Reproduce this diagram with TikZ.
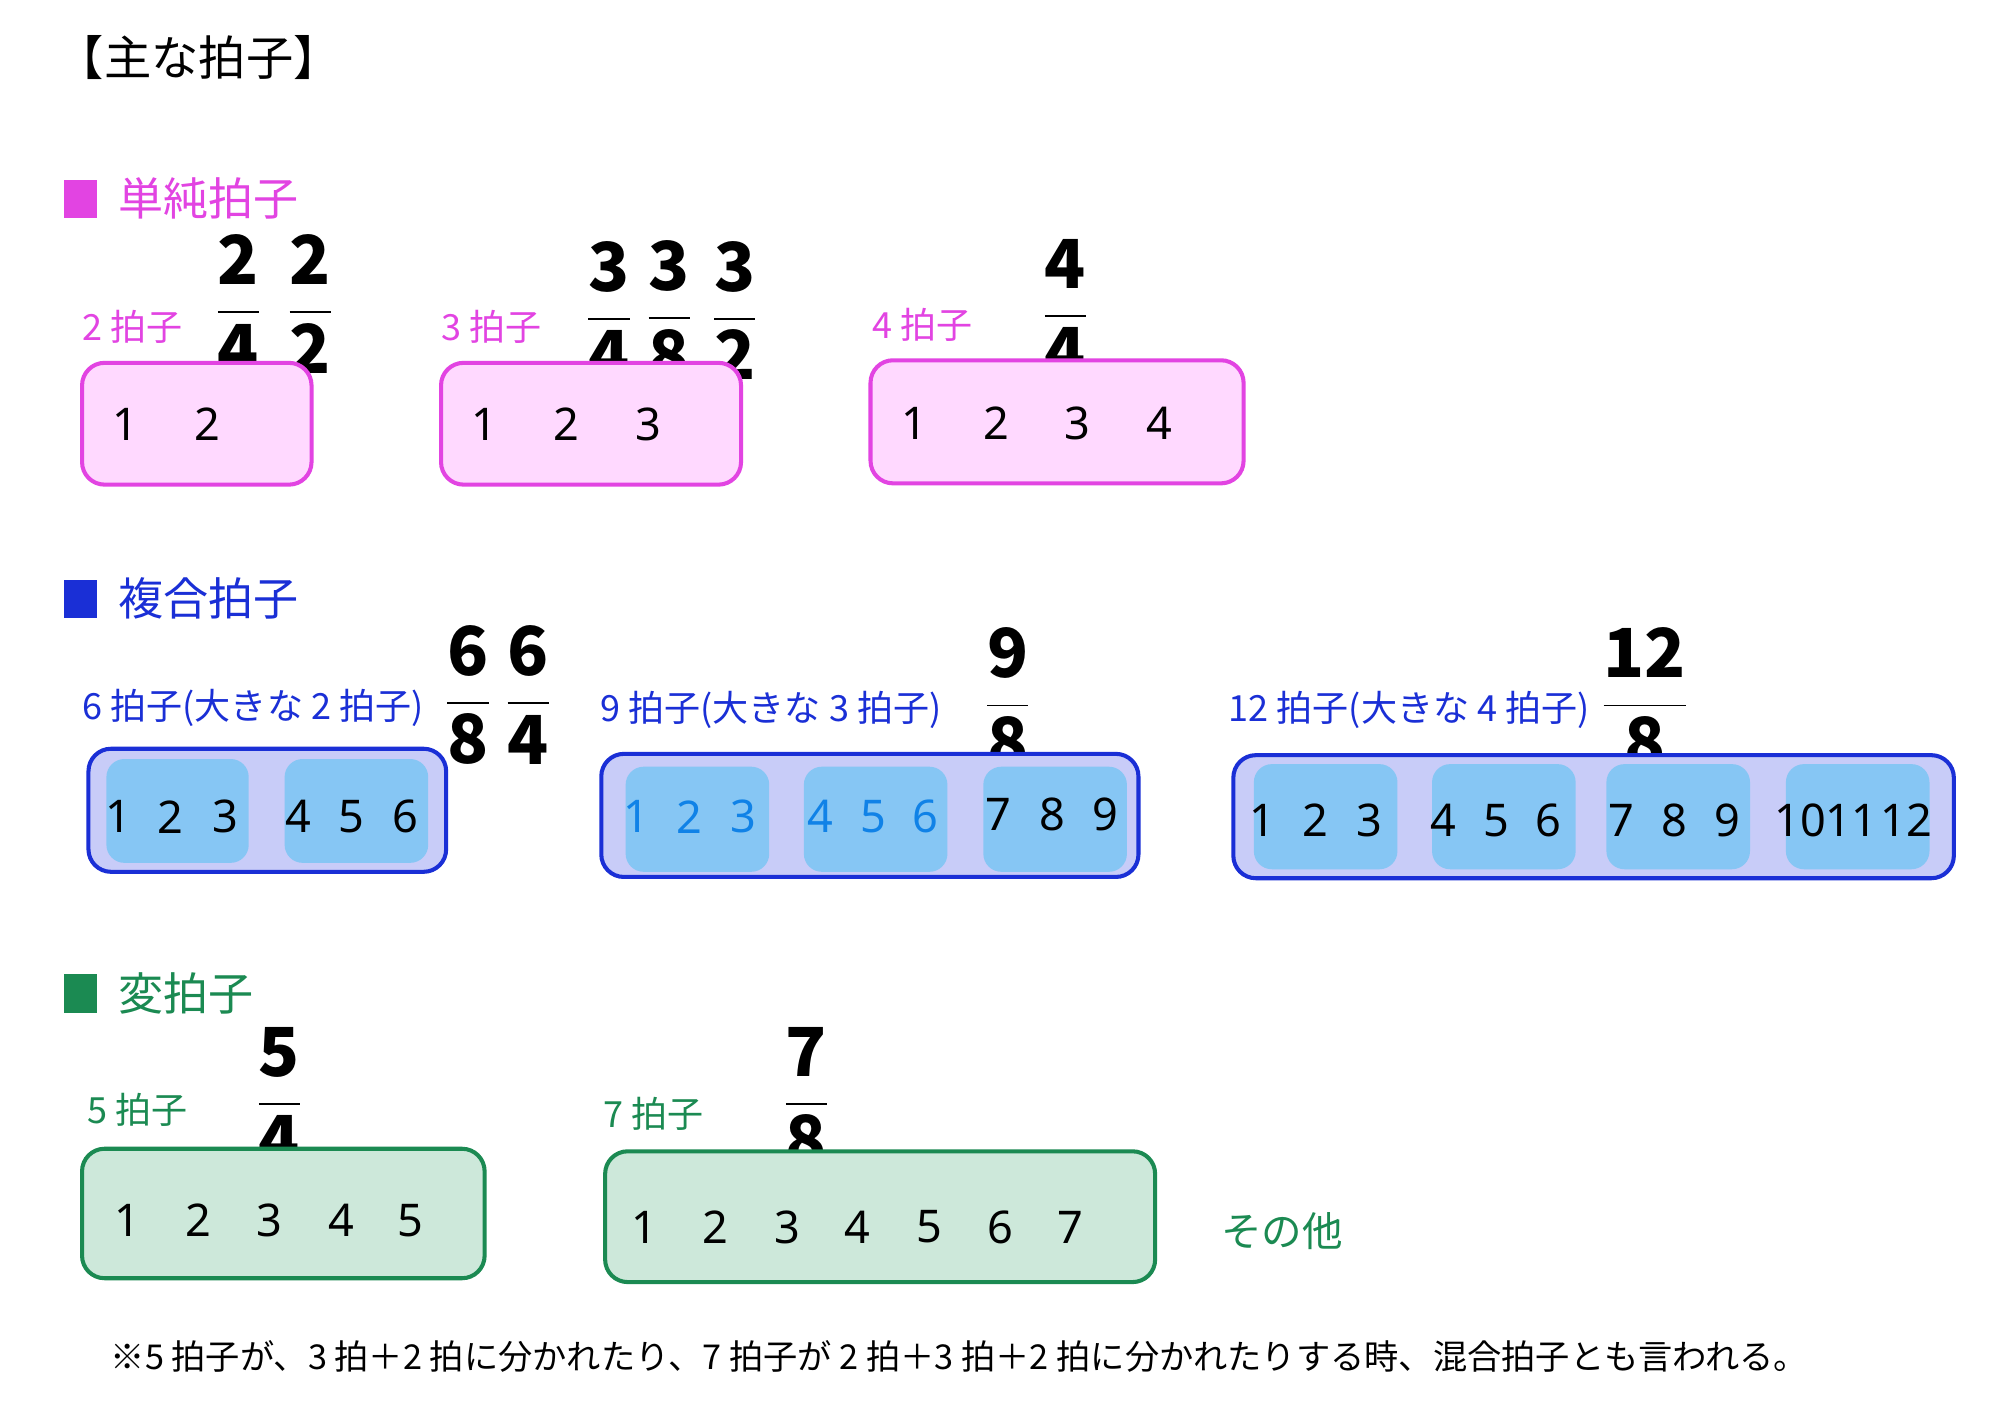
\documentclass[tikz,border=0pt]{standalone}
\usepackage{fontspec}
\setmainfont{Noto Sans CJK JP}
\newfontfamily\numf{Noto Sans}
\definecolor{pk}{HTML}{E244E2}
\definecolor{pkf}{HTML}{FFD9FF}
\definecolor{bl}{HTML}{1A2FD6}
\definecolor{blf}{HTML}{C8CCF8}
\definecolor{bli}{HTML}{86C6F4}
\definecolor{gr}{HTML}{1B8A52}
\definecolor{grf}{HTML}{CDE8DA}
\newcommand\tsig[2]{\fontsize{15}{15}\selectfont$\displaystyle\frac{\mathbf{#1}}{\mathbf{#2}}$}
\tikzset{
 lbl/.style={anchor=west,font=\fontsize{8}{8}\selectfont},
 sec/.style={anchor=west,font=\fontsize{10}{10}\selectfont},
 num/.style={font=\numf\fontsize{10}{10}\selectfont},
 sig/.style={inner sep=0pt},
 pbox/.style={draw=pk,fill=pkf,line width=0.9pt,rounded corners=5pt},
 bbox/.style={draw=bl,fill=blf,line width=0.9pt,rounded corners=5pt},
 ibox/.style={fill=bli,rounded corners=4pt},
 gbox/.style={draw=gr,fill=grf,line width=0.9pt,rounded corners=5pt},
}
\begin{document}
\begin{tikzpicture}[x=0.1mm,y=-0.1mm]
\fill[white] (0,0) rectangle (1560,1112);
\node[sec,font=\fontsize{10.5}{10.5}\selectfont] (title) at (32,45) {【主な拍子】};
% simple
\fill[pk] (50,140) rectangle (76,170);
\node[sec,text=pk] (s1) at (80,155) {単純拍子};
\node[lbl,text=pk] (l2) at (52,255) {2 拍子};
\node[sig] (t24) at (186,237) {\tsig{2}{4}};
\node[sig] (t22) at (242,237) {\tsig{2}{2}};
\draw[pbox] (64,283) rectangle (243,378);
\foreach \x/\n in {98/1,162/2} \node[num] (p2\n) at (\x,331) {\n};
\node[lbl,text=pk] (l3) at (332,255) {3 拍子};
\node[sig] (t34) at (475,242) {\tsig{3}{4}};
\node[sig] (t38) at (522,242) {\tsig{3}{8}};
\node[sig] (t32) at (573,242) {\tsig{3}{2}};
\draw[pbox] (344,283) rectangle (578,378);
\foreach \x/\n in {378/1,442/2,506/3} \node[num] (p3\n) at (\x,331) {\n};
\node[lbl,text=pk] (l4) at (668,253) {4 拍子};
\node[sig] (t44) at (831,240) {\tsig{4}{4}};
\draw[pbox] (679,281) rectangle (970,377);
\foreach \x/\n in {713/1,777/2,840/3,904/4} \node[num] (p4\n) at (\x,330) {\n};
% compound
\fill[bl] (50,452) rectangle (76,482);
\node[sec,text=bl] (s2) at (80,467) {複合拍子};
\node[lbl,text=bl] (l6) at (52,552) {6 拍子(大きな 2 拍子)};
\node[sig] (t68) at (365,542) {\tsig{6}{8}};
\node[sig] (t64) at (412,542) {\tsig{6}{4}};
\draw[bbox] (69,584) rectangle (348,680);
\fill[ibox] (83,592) rectangle (194,673);
\fill[ibox] (222,592) rectangle (334,673);
\foreach \x/\n in {92/1,133/2,176/3,233/4,274/5,316/6} \node[num] (c6\n) at (\x,637) {\n};
\node[lbl,text=bl] (l9) at (456,554) {9 拍子(大きな 3 拍子)};
\node[sig] (t98) at (786,544) {\tsig{9}{8}};
\draw[bbox] (469,588) rectangle (888,684);
\foreach \a in {488,627,767} \fill[ibox] (\a,598) rectangle ++(112,82);
\foreach \x/\n in {496/1,538/2,580/3} \node[num,text=bl!60!cyan] (c9\n) at (\x,637) {\n};
\foreach \x/\n in {640/4,681/5,722/6} \node[num,text=bl!60!cyan] (c9\n) at (\x,637) {\n};
\foreach \x/\n in {779/7,821/8,862/9} \node[num] (c9\n) at (\x,635) {\n};
\node[lbl,text=bl] (l12) at (946,554) {12 拍子(大きな 4 拍子)};
\node[sig] (t128) at (1283,544) {\tsig{12}{8}};
\draw[bbox] (962,589) rectangle (1524,685);
\foreach \a in {978,1117,1253,1393} \fill[ibox] (\a,596) rectangle ++(112,82);
\foreach \x/\n in {985/1,1026/2,1068/3,1126/4,1167/5,1208/6,1265/7,1306/8,1347/9,1404/10,1444/11,1487/12}
  \node[num] (c12\n) at (\x,640) {\n};
% irregular
\fill[gr] (50,760) rectangle (76,790);
\node[sec,text=gr] (s3) at (80,775) {変拍子};
\node[lbl,text=gr] (l5) at (56,866) {5 拍子};
\node[sig] (t54) at (218,855) {\tsig{5}{4}};
\draw[gbox] (64,896) rectangle (378,997);
\foreach \x/\n in {99/1,155/2,210/3,266/4,320/5} \node[num] (g5\n) at (\x,952) {\n};
\node[lbl,text=gr] (l7) at (458,869) {7 拍子};
\node[sig] (t78) at (629,855) {\tsig{7}{8}};
\draw[gbox] (472,898) rectangle (901,1000);
\foreach \x/\n in {503/1,558/2,614/3,669/4,725/5,780/6,835/7} \node[num] (g7\n) at (\x,957) {\n};
\node[lbl,text=gr,font=\fontsize{9}{9}\selectfont] (oth) at (940,960) {その他};
\node[anchor=west,font=\fontsize{7.6}{7.6}\selectfont] (note) at (74,1058) {※5 拍子が、3 拍＋2 拍に分かれたり、7 拍子が 2 拍＋3 拍＋2 拍に分かれたりする時、混合拍子とも言われる。};
\end{tikzpicture}
\end{document}
